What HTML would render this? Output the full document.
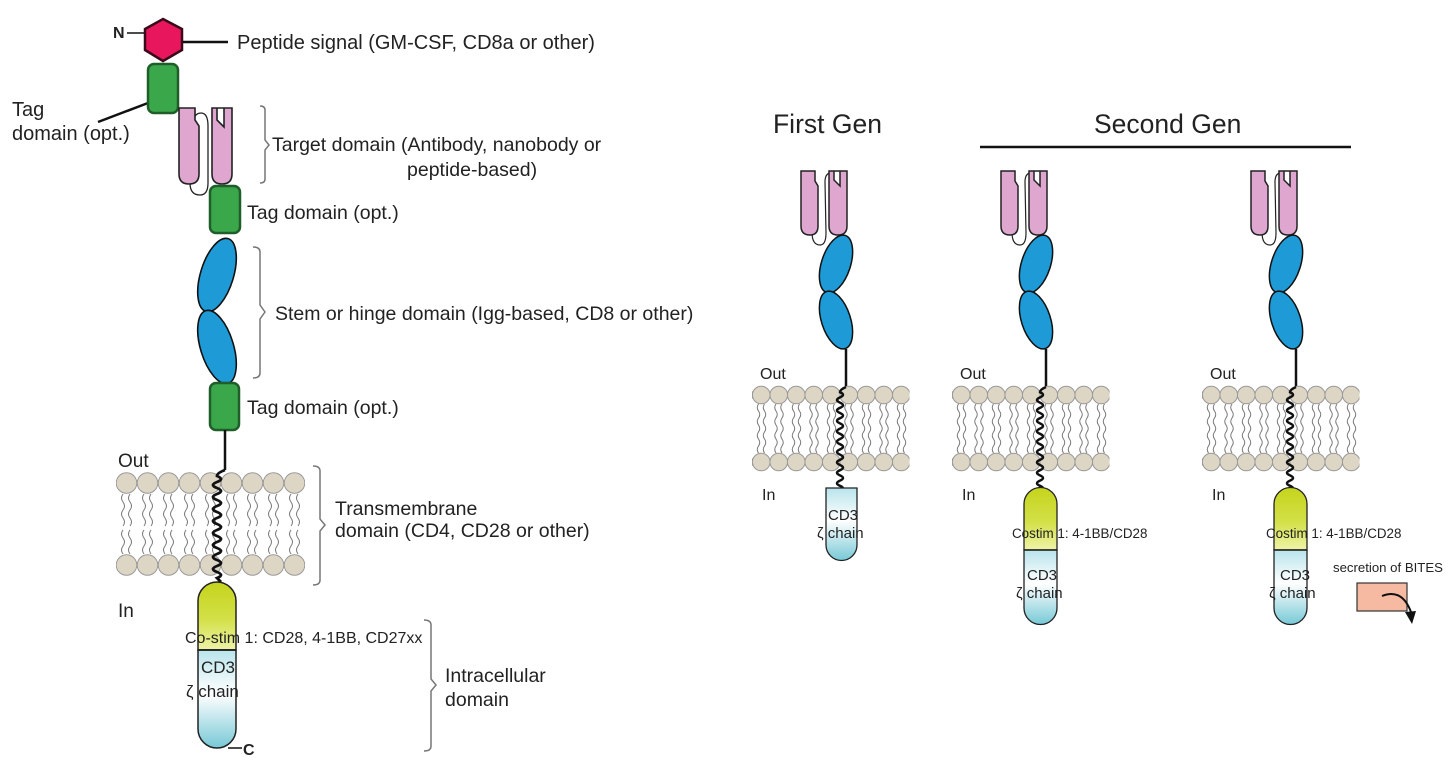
<!DOCTYPE html>
<html><head><meta charset="utf-8"><style>
html,body{margin:0;padding:0;background:#fff;}
svg{display:block;}
text{font-family:"Liberation Sans",sans-serif;fill:#222;}
</style></head><body>
<svg width="1456" height="779" viewBox="0 0 1456 779" xmlns="http://www.w3.org/2000/svg">
<defs>
<pattern id="lipL" x="116" y="472" width="21" height="104" patternUnits="userSpaceOnUse">
<path d="M7,22 q-3,4 0,8 t0,8 t0,8 t0,8 M14,22 q-3,4 0,8 t0,8 t0,8 t0,8 M7,82 q-3,-4 0,-8 t0,-8 t0,-8 M14,82 q-3,-4 0,-8 t0,-8 t0,-8" fill="none" stroke="#777" stroke-width="1"/>
<circle cx="10.5" cy="11" r="10.3" fill="#ddd6c4" stroke="#999" stroke-width="1"/>
<circle cx="10.5" cy="93" r="10.3" fill="#ddd6c4" stroke="#999" stroke-width="1"/>
</pattern>
<pattern id="lipR" x="0" y="385" width="17.5" height="87" patternUnits="userSpaceOnUse">
<path d="M6,19 q-2.5,3.5 0,7 t0,7 t0,7 t0,7 M12,19 q-2.5,3.5 0,7 t0,7 t0,7 t0,7 M6,68 q-2.5,-3.5 0,-7 t0,-7 t0,-7 M12,68 q-2.5,-3.5 0,-7 t0,-7 t0,-7" fill="none" stroke="#777" stroke-width="1"/>
<circle cx="8.75" cy="10" r="8.8" fill="#ddd6c4" stroke="#999" stroke-width="1"/>
<circle cx="8.75" cy="77" r="8.8" fill="#ddd6c4" stroke="#999" stroke-width="1"/>
</pattern>
<linearGradient id="yel" x1="0" y1="0" x2="0" y2="1">
<stop offset="0" stop-color="#c5d41c"/><stop offset="0.55" stop-color="#d3e048"/><stop offset="1" stop-color="#eef3a8"/>
</linearGradient>
<linearGradient id="cya" x1="0" y1="0" x2="0" y2="1">
<stop offset="0" stop-color="#b9e4ec"/><stop offset="0.45" stop-color="#ffffff"/><stop offset="1" stop-color="#77c9d6"/>
</linearGradient>
<g id="topR">
<path d="M812,232 q0,13 8,13 q6,0 6,-12 L825,182 q0,-8 5,-9" fill="none" stroke="#222" stroke-width="1.2"/>
<path d="M801,171 L815,171 L815,181 L818,186 L818,226 q0,9 -8,9 q-9,0 -9,-9 Z" fill="#dfa6cf" stroke="#222" stroke-width="1.5"/>
<path d="M829,171 L847,171 L847,226 q0,9 -9,9 q-9,0 -9,-9 Z M834,171 L834,180 L840,186 L840,171" fill="#dfa6cf" stroke="#222" stroke-width="1.5"/>
<ellipse cx="836" cy="264" rx="14.5" ry="30" transform="rotate(18 836 264)" fill="#1e9ad6" stroke="#111" stroke-width="1.5"/>
<ellipse cx="836" cy="320" rx="14.5" ry="30" transform="rotate(-18 836 320)" fill="#1e9ad6" stroke="#111" stroke-width="1.5"/>
<path d="M846,349 L846,387" stroke="#111" stroke-width="2.5" fill="none"/>
<rect x="752" y="385" width="157.5" height="87" fill="url(#lipR)"/>
<path d="M846,387 q-6,2.6 -6,5.2 q6,2.6 0,5.2 t0,5.2 t0,5.2 t0,5.2 t0,5.2 t0,5.2 t0,5.2 t0,5.2 t0,5.2 t0,5.2 t0,5.2 t0,5.2 t0,5.2 t0,5.2 t0,5.2 t0,5.2 t0,5.2 t0,5.2 t-2,3" fill="none" stroke="#111" stroke-width="2.5"/>
<text x="760" y="379" font-size="16">Out</text>
<text x="762" y="500" font-size="16">In</text>
</g>
</defs>

<!-- LEFT DIAGRAM -->
<text x="113" y="38" font-size="16" font-weight="bold">N</text>
<line x1="127" y1="33" x2="145" y2="33" stroke="#111" stroke-width="1.5"/>
<line x1="180" y1="42" x2="228" y2="42" stroke="#111" stroke-width="2.5"/>
<polygon points="163,19 182,29 182,50 163,61 145,50 145,29" fill="#e8175d" stroke="#3a0a1a" stroke-width="2.5"/>
<text x="237" y="49" font-size="20">Peptide signal (GM-CSF, CD8a or other)</text>
<line x1="148" y1="103" x2="98" y2="122" stroke="#111" stroke-width="2.5"/>
<rect x="148" y="64" width="30" height="49" rx="6" fill="#3aa84a" stroke="#1f5e28" stroke-width="2.5"/>
<text x="12" y="116" font-size="20">Tag</text>
<text x="12" y="140" font-size="20">domain (opt.)</text>
<path d="M190,183 q0,12 10,12 q8,0 8,-12 L208,126 q0,-13 -7,-13 q-8,0 -8,13" fill="none" stroke="#222" stroke-width="1.3"/>
<path d="M179,108 L195,108 L195,120 L199,126 L199,174 q0,10 -10,10 q-10,0 -10,-10 Z" fill="#dfa6cf" stroke="#222" stroke-width="1.6"/>
<path d="M212,108 L232,108 L232,174 q0,10 -10,10 q-10,0 -10,-10 Z M217,108 L217,120 L224,127 L224,108" fill="#dfa6cf" stroke="#222" stroke-width="1.6"/>
<path d="M260,106 q5,0 5,4 L265,140 L269,145 L265,150 L265,179 q0,4 -5,4" fill="none" stroke="#777" stroke-width="1.5"/>
<text x="272" y="151" font-size="19.5">Target domain (Antibody, nanobody or</text>
<text x="407" y="176" font-size="19.5">peptide-based)</text>
<rect x="210" y="186" width="30" height="47" rx="6" fill="#3aa84a" stroke="#1f5e28" stroke-width="2.5"/>
<text x="247" y="219" font-size="19.5">Tag domain (opt.)</text>
<ellipse cx="217" cy="275" rx="16.5" ry="38" transform="rotate(17 217 275)" fill="#1e9ad6" stroke="#111" stroke-width="1.6"/>
<ellipse cx="217" cy="347" rx="16.5" ry="38" transform="rotate(-17 217 347)" fill="#1e9ad6" stroke="#111" stroke-width="1.6"/>
<path d="M253,247 q7,0 7,5 L260,305 L265,312 L260,319 L260,373 q0,5 -7,5" fill="none" stroke="#777" stroke-width="1.5"/>
<text x="275" y="320" font-size="19.5">Stem or hinge domain (Igg-based, CD8 or other)</text>
<rect x="210" y="383" width="29" height="47" rx="6" fill="#3aa84a" stroke="#1f5e28" stroke-width="2.5"/>
<text x="247" y="414" font-size="19.5">Tag domain (opt.)</text>
<line x1="225" y1="430" x2="225" y2="470" stroke="#111" stroke-width="2.5"/>
<text x="118" y="467" font-size="19">Out</text>
<rect x="116" y="472" width="189" height="104" fill="url(#lipL)"/>
<path d="M225,470 q-8,3 -8,6 q8,3 0,6 t0,6 t0,6 t0,6 t0,6 t0,6 t0,6 t0,6 t0,6 t0,6 t0,6 t0,6 t0,6 t0,6 t0,6 t0,6 t0,6 l4,4" fill="none" stroke="#111" stroke-width="2.8"/>
<path d="M313,466 q7,0 7,5 L320,519 L325,525 L320,531 L320,580 q0,5 -7,5" fill="none" stroke="#777" stroke-width="1.5"/>
<text x="335" y="515" font-size="19.5">Transmembrane</text>
<text x="335" y="537" font-size="19.5">domain (CD4, CD28 or other)</text>
<text x="118" y="617" font-size="19">In</text>
<path d="M198,650 L198,601 a19,19 0 0 1 38,0 L236,650 Z" fill="url(#yel)" stroke="#222" stroke-width="1.5"/>
<path d="M198,650 L236,650 L236,729 a19,19 0 0 1 -38,0 Z" fill="url(#cya)" stroke="#222" stroke-width="1.5"/>
<line x1="198" y1="650" x2="236" y2="650" stroke="#222" stroke-width="1.8"/>
<text x="185" y="643" font-size="16">Co-stim 1: CD28, 4-1BB, CD27xx</text>
<text x="201" y="673" font-size="17">CD3</text>
<text x="186" y="697" font-size="17">ζ chain</text>
<line x1="228" y1="748" x2="242" y2="748" stroke="#111" stroke-width="1.5"/>
<text x="243" y="755" font-size="16" font-weight="bold">C</text>
<path d="M424,620 q7,0 7,5 L431,679 L436,685 L431,691 L431,746 q0,5 -7,5" fill="none" stroke="#777" stroke-width="1.5"/>
<text x="445" y="682" font-size="19.5">Intracellular</text>
<text x="445" y="706" font-size="19.5">domain</text>

<!-- RIGHT -->
<text x="773" y="133" font-size="26.5">First Gen</text>
<text x="1094" y="133" font-size="26.5">Second Gen</text>
<line x1="980" y1="147" x2="1351" y2="147" stroke="#111" stroke-width="2.5"/>

<use href="#topR"/>
<path d="M826,488 L857,488 L857,545 a15.5,15.5 0 0 1 -31,0 Z" fill="url(#cya)" stroke="#222" stroke-width="1.3"/>
<text x="828" y="520" font-size="15">CD3</text>
<text x="817" y="538" font-size="15">ζ chain</text>

<use href="#topR" transform="translate(200,0)"/>
<path d="M1024,550 L1024,504 a16.5,16.5 0 0 1 33,0 L1057,550 Z" fill="url(#yel)" stroke="#222" stroke-width="1.3"/>
<path d="M1024,550 L1057,550 L1057,608 a16.5,16.5 0 0 1 -33,0 Z" fill="url(#cya)" stroke="#222" stroke-width="1.3"/>
<line x1="1024" y1="550" x2="1057" y2="550" stroke="#222" stroke-width="1.6"/>
<text x="1012" y="538" font-size="13.4">Costim 1: 4-1BB/CD28</text>
<text x="1027" y="580" font-size="15">CD3</text>
<text x="1016" y="598" font-size="15">ζ chain</text>

<use href="#topR" transform="translate(450,0)"/>
<path d="M1274,550 L1274,504 a16.5,16.5 0 0 1 33,0 L1307,550 Z" fill="url(#yel)" stroke="#222" stroke-width="1.3"/>
<path d="M1274,550 L1307,550 L1307,608 a16.5,16.5 0 0 1 -33,0 Z" fill="url(#cya)" stroke="#222" stroke-width="1.3"/>
<line x1="1274" y1="550" x2="1307" y2="550" stroke="#222" stroke-width="1.6"/>
<text x="1266" y="538" font-size="13.4">Costim 1: 4-1BB/CD28</text>
<text x="1280" y="580" font-size="15">CD3</text>
<text x="1269" y="598" font-size="15">ζ chain</text>
<text x="1333" y="572" font-size="13.2">secretion of BITES</text>
<rect x="1357" y="583" width="50" height="28" fill="#f6b9a2" stroke="#333" stroke-width="1.2"/>
<path d="M1382,596 q20,-8 29,16" fill="none" stroke="#111" stroke-width="2"/>
<path d="M1405,612 l7,12 l4,-13 z" fill="#111"/>
</svg>
</body></html>
